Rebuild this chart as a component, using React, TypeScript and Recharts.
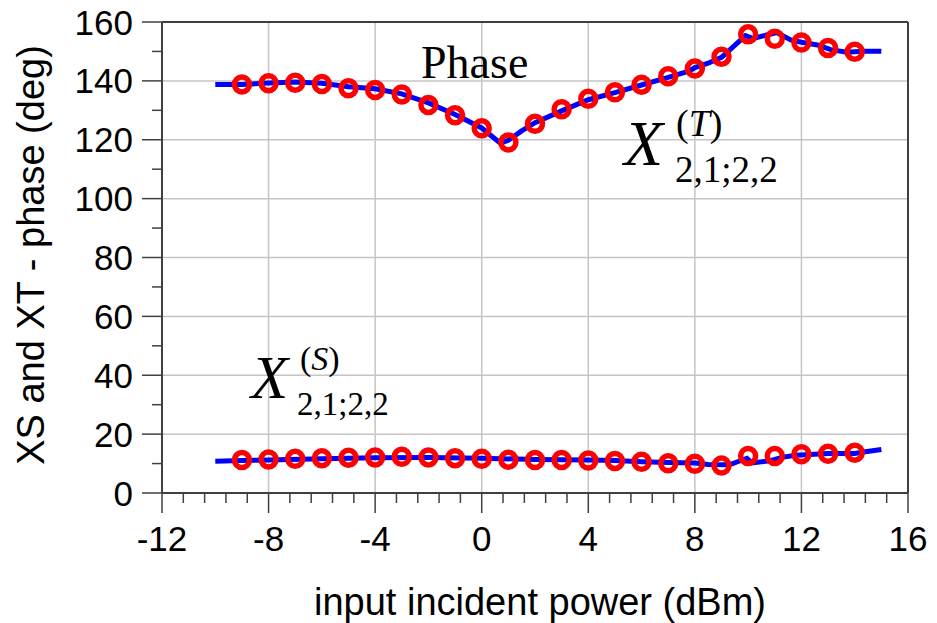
import {
  ComposedChart,
  Line,
  ReferenceLine,
  Scatter,
  XAxis,
  YAxis,
} from 'recharts';

// measured points (red circles)
const powerPoints = [-9, -8, -7, -6, -5, -4, -3, -2, -1, 0, 1, 2, 3, 4, 5, 6, 7, 8, 9, 10, 11, 12, 13, 14];
const phaseT = [138.8, 139.2, 139.4, 138.9, 137.5, 136.9, 135.4, 131.8, 128.3, 123.9, 119.1, 125.4, 130.4, 133.9, 136.1, 138.7, 141.6, 144.2, 148.2, 155.8, 154.3, 153.0, 151.2, 149.9];
const phaseS = [11.2, 11.4, 11.6, 11.8, 12.0, 12.1, 12.3, 12.1, 11.8, 11.6, 11.3, 11.2, 11.2, 11.0, 10.9, 10.6, 10.1, 9.9, 9.3, 12.6, 12.6, 13.2, 13.3, 13.7];

// model curves (blue lines)
const fitPowerT = [-10, -9, -8, -7, -6, -5, -4, -3, -2, -1, 0, 0.7, 1, 1.5, 2, 3, 4, 5, 6, 7, 7.8, 8, 8.5, 9, 9.9, 10.2, 10.7, 11.07, 11.6, 12, 12.6, 13.1, 13.7, 14.3, 15];
const fitT = [138.8, 138.8, 139.3, 139.6, 139.2, 138.0, 137.3, 135.6, 132.5, 128.6, 124.0, 118.8, 119.8, 123.0, 125.8, 129.8, 133.6, 136.0, 138.6, 141.2, 143.4, 144.5, 146.0, 148.0, 155.4, 154.4, 155.6, 156.4, 153.9, 153.1, 152.2, 150.6, 149.7, 150.1, 150.1];
const fitPowerS = [-10, -9, -8, -6, -4, -2, 0, 2, 4, 5, 6, 7, 8, 8.5, 9.3, 9.95, 10.15, 10.8, 11.3, 11.8, 13, 14, 14.4, 15];
const fitS = [10.8, 11.0, 11.2, 11.6, 12.0, 12.1, 11.8, 11.4, 11.2, 11.0, 10.6, 10.4, 10.2, 9.7, 9.6, 11.8, 10.2, 10.9, 12.2, 12.8, 13.4, 13.4, 14.0, 14.8];

const yMajor = [0, 20, 40, 60, 80, 100, 120, 140, 160];
const xMajor = [-12, -8, -4, 0, 4, 8, 12, 16];

const yTicks: number[] = [];
for (let v = 0; v <= 160; v += 10) yTicks.push(v);
const xTicks: number[] = [];
for (let i = 0; i <= 35; i++) xTicks.push(Math.round((-12 + i * 0.8) * 10) / 10);

const pointsT = powerPoints.map((x, i) => ({ x, y: phaseT[i] }));
const pointsS = powerPoints.map((x, i) => ({ x, y: phaseS[i] }));
const curveT = fitPowerT.map((x, i) => ({ x, y: fitT[i] }));
const curveS = fitPowerS.map((x, i) => ({ x, y: fitS[i] }));

const axisColor = '#404040';
const gridColor = '#c4c4c4';
const sans = '"Liberation Sans", Arial, sans-serif';
const serif = '"Liberation Serif", "Times New Roman", serif';

const YTick = (props: any) => {
  const { x, y, payload } = props;
  const v = payload.value;
  const major = v % 20 === 0;
  return (
    <g>
      <line x1={x - (major ? 20 : 10)} x2={x} y1={y} y2={y} stroke={axisColor} strokeWidth={1.5} />
      {major && (
        <text x={x - 29} y={y + 12.5} textAnchor="end" fontSize={35} fontFamily={sans} fill="#000">
          {v}
        </text>
      )}
    </g>
  );
};

const XTick = (props: any) => {
  const { x, y, payload } = props;
  const v = payload.value;
  const major = xMajor.includes(v);
  return (
    <g>
      <line x1={x} x2={x} y1={y} y2={y + (major ? 20 : 10)} stroke={axisColor} strokeWidth={1.5} />
      {major && (
        <text x={x} y={y + 58} textAnchor="middle" fontSize={35} fontFamily={sans} fill="#000">
          {v}
        </text>
      )}
    </g>
  );
};

const Ring = (props: any) => (
  <circle cx={props.cx} cy={props.cy} r={7.5} fill="none" stroke="#ff0000" strokeWidth={5.5} />
);

const App = () => {
  return (
    <div style={{ position: 'absolute', left: 0, top: 0, width: 937, height: 623, background: '#fff' }}>
      <ComposedChart width={937} height={623} margin={{ top: 22, right: 29, bottom: 0, left: 0 }}>
        <XAxis
          type="number"
          dataKey="x"
          domain={[-12, 16]}
          ticks={xTicks}
          interval={0}
          tickSize={0}
          tickMargin={0}
          tick={<XTick />}
          height={130}
          stroke={axisColor}
          strokeWidth={2}
          allowDataOverflow
        />
        <YAxis
          type="number"
          dataKey="y"
          domain={[0, 160]}
          ticks={yTicks}
          interval={0}
          tickSize={0}
          tickMargin={0}
          tick={<YTick />}
          width={162}
          stroke={axisColor}
          strokeWidth={2}
          allowDataOverflow
        />
        {yMajor.slice(1, -1).map((v) => (
          <ReferenceLine key={'h' + v} y={v} stroke={gridColor} strokeWidth={1.5} />
        ))}
        {xMajor.slice(1, -1).map((v) => (
          <ReferenceLine key={'v' + v} x={v} stroke={gridColor} strokeWidth={1.5} />
        ))}
        <ReferenceLine y={160} stroke={axisColor} strokeWidth={2} />
        <ReferenceLine x={16} stroke={axisColor} strokeWidth={2} />
        <Scatter data={pointsT} shape={<Ring />} isAnimationActive={false} />
        <Scatter data={pointsS} shape={<Ring />} isAnimationActive={false} />
        <Line data={curveT} dataKey="y" type="linear" stroke="#0000ff" strokeWidth={5} dot={false} isAnimationActive={false} />
        <Line data={curveS} dataKey="y" type="linear" stroke="#0000ff" strokeWidth={5} dot={false} isAnimationActive={false} />
      </ComposedChart>
      <svg
        width={937}
        height={623}
        style={{ position: 'absolute', left: 0, top: 0, pointerEvents: 'none' }}
      >
        <text x={44} y={255} transform="rotate(-90, 44, 255)" textAnchor="middle" fontSize={38} fontFamily={sans} fill="#000">
          XS and XT - phase (deg)
        </text>
        <text x={540} y={615} textAnchor="middle" fontSize={38} fontFamily={sans} fill="#000">
          input incident power (dBm)
        </text>
        <text x={421} y={78} fontSize={46} fontFamily={serif} fill="#000">
          Phase
        </text>
        <g fontFamily={serif} fill="#000">
          <text x={624} y={165} fontSize={64} fontStyle="italic">X</text>
          <text x={676} y={136} fontSize={38}>
            (<tspan fontStyle="italic">T</tspan>)
          </text>
          <text x={675} y={182} fontSize={37}>2,1;2,2</text>
        </g>
        <g fontFamily={serif} fill="#000">
          <text x={251} y={398} fontSize={61} fontStyle="italic">X</text>
          <text x={300} y={370} fontSize={34}>
            (<tspan fontStyle="italic">S</tspan>)
          </text>
          <text x={297} y={415} fontSize={33}>2,1;2,2</text>
        </g>
      </svg>
    </div>
  );
};

export default App;
